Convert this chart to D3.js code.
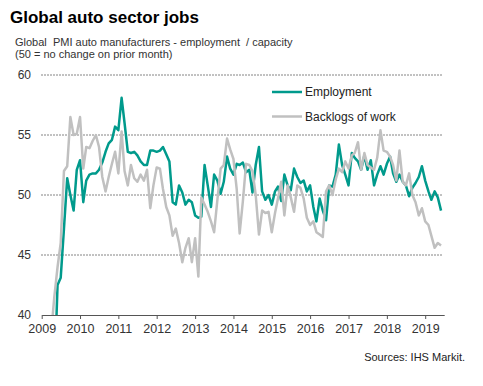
<!DOCTYPE html>
<html>
<head>
<meta charset="utf-8">
<script src="https://cdn.jsdelivr.net/npm/d3@7"></script>
<style>
  body { margin: 0; background: #fff; }
  svg text { font-family: "Liberation Sans", Arial, sans-serif; white-space: pre; }
</style>
</head>
<body>
<svg id="chart" width="483" height="386"></svg>
<script>
// monthly readings, Jan 2009 .. Jun 2019
const startMonth = new Date(2009, 0, 1);
const employment = [
  32, 31, 32, 33, 34.5, 42.5, 43.1, 47.2, 51.4, 50.0, 48.7, 52.1,
  52.9, 49.4, 51.2, 51.7, 51.8, 51.8, 52.1, 52.7, 53.6, 54.3, 54.6, 55.7,
  55.4, 58.1, 56.0, 53.6, 53.5, 53.6, 53.3, 52.8, 52.5, 52.5, 53.7, 53.7,
  53.6, 53.7, 54.0, 53.4, 52.8, 49.4, 49.2, 50.8, 50.2, 49.2, 49.6, 49.4,
  48.3, 48.1, 48.2, 52.5, 50.8, 49.0, 51.7, 51.2, 50.1, 51.1, 53.2, 52.2,
  51.7, 52.6, 52.5, 52.7, 51.9, 52.1, 50.2, 52.5, 54.0, 50.3, 49.6, 50.0,
  49.2, 50.3, 50.7, 49.5, 51.7, 50.8, 50.4, 52.2, 51.5, 51.0, 51.2, 50.3,
  50.8, 49.0, 47.8, 49.7, 48.7, 47.9, 50.8, 50.7, 51.7, 54.2, 52.5, 51.7,
  50.8, 53.5, 53.1, 52.8, 52.1, 53.3, 52.1, 52.9, 50.8, 51.7, 52.4, 51.7,
  52.6, 53.2, 51.8, 51.1, 51.7, 51.1, 50.8, 49.9, 50.6, 51.0, 51.5, 52.4,
  51.2, 50.3, 49.6, 50.3, 49.8, 48.7
];
const backlogs = [
  34, 36, 37, 38.5, 41.5, 44.0, 46.0, 52.0, 52.4, 56.5, 55.0, 55.1,
  56.5, 52.2, 54.0, 53.9, 54.5, 55.0, 54.0, 51.5, 50.3, 51.5, 52.6, 53.6,
  51.8, 55.3, 52.0, 50.8, 52.5, 51.4, 51.1, 51.7, 51.2, 52.1, 48.9, 50.8,
  52.3, 52.2, 50.5, 49.0, 48.3, 46.6, 47.2, 46.0, 44.4, 45.6, 46.4, 44.4,
  46.4, 43.2, 49.8, 49.2, 48.6, 47.8, 46.9, 49.6, 52.2, 52.5, 54.7, 53.8,
  53.0, 50.5, 46.8, 49.5, 52.6, 52.5, 52.0, 50.0, 46.7, 48.7, 48.5, 48.6,
  46.9, 48.5, 49.7, 51.1, 48.3, 50.8, 49.8, 48.6, 50.8, 50.6, 49.7, 48.1,
  47.5, 47.8, 46.9, 46.7, 46.5, 50.3, 50.8, 50.0, 51.3, 52.2, 51.9, 52.8,
  52.2, 53.3, 53.5, 54.4, 52.1, 53.5, 52.5, 52.3, 52.1, 53.1, 55.4, 53.7,
  53.6, 53.2, 52.5, 51.2, 53.7, 51.1, 50.8, 51.8, 50.0, 49.4, 48.3, 48.9,
  47.8, 47.5, 46.6, 45.6, 46.0, 45.8
];
const seriesNames = ['Employment', 'Backlogs of work'];
const seriesColors = ['#009a8c', '#c0c0c0'];
const yTicks = [40, 45, 50, 55, 60];

const svg = d3.select('#chart');
const months = employment.map((d, i) => d3.timeMonth.offset(startMonth, i));

const x = d3.scaleTime()
  .domain([startMonth, new Date(2019, 6, 1)])
  .range([41.7, 444.2]);
const y = d3.scaleLinear().domain([40, 60]).range([315, 75]);

// titles
svg.append('text')
  .attr('x', 10).attr('y', 23)
  .style('font-size', '17px').style('font-weight', 'bold')
  .text('Global auto sector jobs');
svg.append('text')
  .attr('x', 15).attr('y', 46)
  .style('font-size', '11px').attr('fill', '#333')
  .text('Global  PMI auto manufacturers - employment  / capacity');
svg.append('text')
  .attr('x', 15).attr('y', 58)
  .style('font-size', '11px').attr('fill', '#333')
  .text('(50 = no change on prior month)');

// gridlines
svg.append('g')
  .selectAll('line')
  .data(yTicks.filter(d => d > 40))
  .enter().append('line')
    .attr('x1', 41).attr('x2', 443)
    .attr('y1', d => y(d)).attr('y2', d => y(d))
    .attr('stroke', '#666')
    .attr('stroke-width', 0.8)
    .attr('stroke-dasharray', '2,1');

// y labels
svg.append('g')
  .selectAll('text')
  .data(yTicks)
  .enter().append('text')
    .attr('x', 31).attr('y', d => y(d) + 4)
    .attr('text-anchor', 'end')
    .attr('fill', '#333')
    .style('font-size', '12px')
    .text(d => d);

// x axis
const xAxis = d3.axisBottom(x)
  .ticks(d3.timeYear.every(1))
  .tickFormat(d3.timeFormat('%Y'))
  .tickSize(4)
  .tickSizeOuter(0);
const gx = svg.append('g')
  .attr('transform', 'translate(0,' + y(40) + ')')
  .call(xAxis);
gx.select('.domain').attr('stroke', '#555');
gx.selectAll('.tick line').attr('stroke', '#555');
gx.selectAll('.tick text')
  .attr('fill', '#333')
  .attr('dy', null).attr('y', 18)
  .style('font-size', '12.5px')
  .style('font-family', '"Liberation Sans", Arial, sans-serif');

// lines
svg.append('clipPath').attr('id', 'plot-clip')
  .append('rect').attr('x', 30).attr('y', 60).attr('width', 440).attr('height', 255);

const line = d3.line()
  .x((d, i) => x(months[i]))
  .y(d => y(d));

const plot = svg.append('g').attr('clip-path', 'url(#plot-clip)');
[employment, backlogs].forEach(function(values, k) {
  plot.append('path')
    .datum(values)
    .attr('fill', 'none')
    .attr('stroke', seriesColors[k])
    .attr('stroke-width', 2.5)
    .attr('stroke-linejoin', 'round')
    .attr('d', line);
});

// legend
const legend = svg.append('g').attr('transform', 'translate(272,92)');
seriesNames.forEach(function(name, k) {
  legend.append('line')
    .attr('x1', 0).attr('x2', 30)
    .attr('y1', k * 24.5).attr('y2', k * 24.5)
    .attr('stroke', seriesColors[k])
    .attr('stroke-width', 2.5);
  legend.append('text')
    .attr('x', 33).attr('y', k * 24.5 + 4)
    .attr('fill', '#222')
    .style('font-size', '12px')
    .text(name);
});

svg.append('text')
  .attr('x', 465).attr('y', 361)
  .attr('text-anchor', 'end')
  .attr('fill', '#222')
  .style('font-size', '11px')
  .text('Sources: IHS Markit.');
</script>
</body>
</html>
